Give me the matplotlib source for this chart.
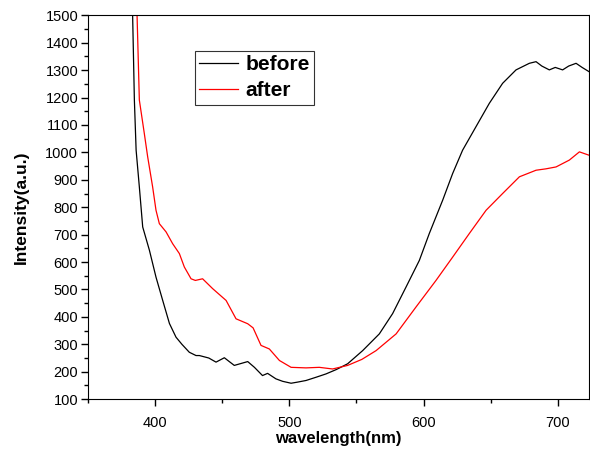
import matplotlib.pyplot as plt
from matplotlib.ticker import MultipleLocator

plt.rcParams['font.family'] = ['Liberation Sans', 'DejaVu Sans']

# valeurs (longueur d'onde en nm, intensite en u.a.)
before_wl = [383.3, 384.6, 385.9, 388.3, 390.8, 395.8, 400.7, 405.7, 410.7, 415.6,
             420.0, 425.5, 430.5, 433.0, 440.0, 445.4, 451.6, 455.0, 459.0, 464.0,
             469.0, 474.0, 480.0, 483.8, 490.0, 495.0, 501.3, 506.0, 512.4, 520.0,
             527.3, 535.0, 543.4, 554.6, 567.0, 576.9, 586.9, 596.8, 604.2, 614.2,
             621.6, 629.0, 639.0, 648.9, 658.8, 668.8, 678.7, 683.7, 688.0, 693.6,
             698.0, 703.5, 708.0, 713.5, 718.0, 723.0]
before_int = [1500, 1191, 1008, 874, 728, 643, 545, 460, 376, 326,
              300, 271, 259, 259, 250, 235, 251, 238, 223, 230,
              237, 216, 186, 194, 174, 165, 158, 162, 168, 180,
              192, 208, 229, 277, 338, 412, 509, 606, 704, 826,
              923, 1008, 1094, 1179, 1252, 1301, 1325, 1331, 1315, 1301,
              1310, 1301, 1315, 1325, 1310, 1295]

after_wl = [386.6, 388.3, 392.0, 394.5, 398.2, 400.7, 403.2, 408.2, 413.1, 418.1,
            421.8, 426.8, 430.0, 435.4, 442.9, 452.9, 460.3, 469.0, 473.0, 478.9,
            485.1, 492.6, 501.3, 512.4, 522.3, 532.2, 543.4, 554.0, 564.6, 579.5,
            594.3, 609.2, 621.6, 634.0, 646.5, 658.8, 671.3, 683.7, 691.0, 698.6,
            708.5, 716.0, 723.0]
after_int = [1500, 1191, 1069, 984, 874, 789, 740, 710, 667, 631,
             582, 539, 533, 539, 503, 460, 393, 375, 360, 296,
             283, 241, 216, 214, 216, 210, 223, 245, 277, 338,
             436, 533, 618, 704, 789, 850, 911, 935, 940, 947,
             972, 1002, 990]

fig = plt.figure(figsize=(5.9, 4.51), dpi=100)
ax = fig.add_axes([0.149, 0.115, 0.849, 0.851])

ax.plot(before_wl, before_int, color='black', lw=0.9, label='before')
ax.plot(after_wl, after_int, color='red', lw=0.9, label='after')

ax.set_xlim(350, 723)
ax.set_ylim(100, 1500)
ax.xaxis.set_major_locator(MultipleLocator(100))
ax.xaxis.set_minor_locator(MultipleLocator(50))
ax.yaxis.set_major_locator(MultipleLocator(100))
ax.yaxis.set_minor_locator(MultipleLocator(50))
ax.tick_params(which='major', direction='out', length=5, width=1, labelsize=10.5)
ax.tick_params(which='minor', direction='out', length=3, width=1)
ax.tick_params(axis='x', which='major', pad=7)
ax.tick_params(axis='y', which='major', pad=2)

ax.set_xlabel('wavelength(nm)', fontsize=12, fontweight='bold', labelpad=1)
ax.set_ylabel('Intensity(a.u.)', fontsize=12.5, fontweight='bold', labelpad=12)

leg = ax.legend(loc='upper left', bbox_to_anchor=(0.213, 0.907),
                prop={'weight': 'bold', 'size': 15}, frameon=True, fancybox=False,
                edgecolor='black', handlelength=1.9, handletextpad=0.35,
                labelspacing=0.35, borderpad=0.2, borderaxespad=0)
leg.get_frame().set_linewidth(0.8)

fig.savefig('out.png', dpi=100)
